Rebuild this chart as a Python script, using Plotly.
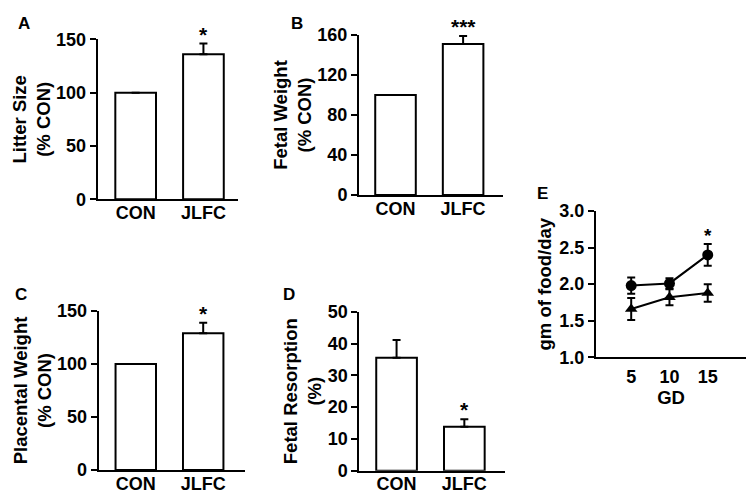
import plotly.graph_objects as go

# The page body has an 8px margin: the figure starts at (8, 8) in the window.
OFF = 8
W, H = 756 - OFF, 502 - OFF

groups = ["CON", "JLFC"]

litter_vals = [100, 136]
litter_err = [0, 10]
fetal_w_vals = [100, 151]
fetal_w_err = [0, 8]
plac_vals = [100, 129]
plac_err = [0, 10]
resorp_vals = [35.5, 13.8]
resorp_err = [5.6, 2.4]

gd = [5, 10, 15]
food_circle = [1.98, 2.01, 2.40]
food_circle_err = [0.11, 0.07, 0.15]
food_tri = [1.66, 1.82, 1.88]
food_tri_err = [0.15, 0.11, 0.12]

FONT = "Liberation Sans, Arial, sans-serif"
TICKF = dict(family=FONT, size=18, color="black", weight="bold")
TITLEF = dict(family=FONT, size=18.5, color="black", weight="bold")


def px_dom_x(a, b):
    return [(a - OFF) / W, (b - OFF) / W]


def px_dom_y(top, bottom):
    return [1 - (bottom - OFF) / H, 1 - (top - OFF) / H]


def px_pt(x, y):
    return (x - OFF) / W, 1 - (y - OFF) / H


fig = go.Figure()

panels = [
    ("1", litter_vals, litter_err, px_dom_x(97.7, 238), px_dom_y(39.3, 199.3), [0, 150], 50,
     "Litter Size<br>(% CON)", [-0.56, 1.51], ["", "*"], "A", (24, 24)),
    ("2", fetal_w_vals, fetal_w_err, px_dom_x(359, 503), px_dom_y(35, 195), [0, 160], 40,
     "Fetal Weight<br>(% CON)", [-0.54, 1.59], ["", "***"], "B", (297, 24)),
    ("3", plac_vals, plac_err, px_dom_x(98.7, 245), px_dom_y(311, 470), [0, 150], 50,
     "Placental Weight<br>(% CON)", [-0.55, 1.62], ["", "*"], "C", (21, 294)),
    ("4", resorp_vals, resorp_err, px_dom_x(359.3, 505), px_dom_y(311.7, 470.7), [0, 50], 10,
     "Fetal Resorption<br>(%)", [-0.55, 1.6], ["", "*"], "D", (289, 294)),
]

annotations = []
for (n, vals, err, xd, yd, yr, dt, title, xr, stars, letter, lp) in panels:
    xa = "x" if n == "1" else "x" + n
    ya = "y" if n == "1" else "y" + n
    fig.add_trace(go.Bar(
        x=[0, 1], y=vals, width=0.6,
        marker=dict(color="white", line=dict(color="black", width=2)),
        error_y=dict(type="data", array=err, arrayminus=[0, 0], symmetric=False,
                     color="black", thickness=2, width=4),
        xaxis=xa, yaxis=ya, showlegend=False, hoverinfo="skip",
    ))
    fig.update_layout(**{
        ("xaxis" if n == "1" else "xaxis" + n): dict(
            domain=xd, range=xr, anchor=ya, tickmode="array", tickvals=[0, 1],
            ticktext=groups, showline=True, linecolor="black", linewidth=2,
            ticks="", ticklabelstandoff=-4, showgrid=False, zeroline=False,
            tickfont=TICKF, automargin=False, fixedrange=True),
        ("yaxis" if n == "1" else "yaxis" + n): dict(
            domain=yd, range=yr, anchor=xa, dtick=dt, tick0=0, showline=True,
            linecolor="black", linewidth=2, ticks="outside", ticklen=6, tickwidth=2,
            tickcolor="black", showgrid=False, zeroline=False, tickfont=TICKF,
            title=dict(text=title, font=TITLEF, standoff=1), automargin=False,
            fixedrange=True),
    })
    for i, s in enumerate(stars):
        if s:
            annotations.append(dict(
                x=i, y=vals[i] + err[i], xref=xa, yref=ya, text=s, showarrow=False,
                yanchor="bottom", yshift=-4,
                font=dict(family=FONT, size=21, color="black", weight="bold")))
    lx, ly = px_pt(*lp)
    annotations.append(dict(
        x=lx, y=ly, xref="paper", yref="paper", text=letter,
        showarrow=False, xanchor="center", yanchor="middle",
        font=dict(family=FONT, size=17, color="black", weight="bold")))

# Panel E
fig.add_trace(go.Scatter(
    x=gd, y=food_circle, mode="lines+markers",
    line=dict(color="black", width=2),
    marker=dict(symbol="circle", size=11, color="black"),
    error_y=dict(type="data", array=food_circle_err, color="black", thickness=2, width=4),
    xaxis="x5", yaxis="y5", showlegend=False, hoverinfo="skip",
))
fig.add_trace(go.Scatter(
    x=gd, y=food_tri, mode="lines+markers",
    line=dict(color="black", width=2),
    marker=dict(symbol="triangle-up", size=11, color="black"),
    error_y=dict(type="data", array=food_tri_err, color="black", thickness=2, width=4),
    xaxis="x5", yaxis="y5", showlegend=False, hoverinfo="skip",
))
fig.update_layout(
    xaxis5=dict(domain=px_dom_x(596, 746), range=[0.4, 20], anchor="y5",
                tickvals=gd, ticks="", ticklabelstandoff=2, showline=True,
                linecolor="black", linewidth=2, showgrid=False, zeroline=False,
                tickfont=TICKF, title=dict(text="GD", font=TITLEF, standoff=4),
                automargin=False, fixedrange=True),
    yaxis5=dict(domain=px_dom_y(211, 357.3), range=[1.0, 3.0], anchor="x5",
                dtick=0.5, tick0=1.0, tickformat=".1f", showline=True, linecolor="black",
                linewidth=2, ticks="outside", ticklen=6, tickwidth=2, tickcolor="black",
                showgrid=False, zeroline=False, tickfont=TICKF,
                title=dict(text="gm of food/day", font=TITLEF, standoff=3),
                automargin=False, fixedrange=True),
)
annotations.append(dict(
    x=15, y=food_circle[2] + food_circle_err[2], xref="x5", yref="y5", text="*",
    showarrow=False, yanchor="bottom", yshift=-4,
    font=dict(family=FONT, size=19, color="black", weight="bold")))
ex, ey = px_pt(542, 193)
annotations.append(dict(
    x=ex, y=ey, xref="paper", yref="paper", text="E",
    showarrow=False, xanchor="center", yanchor="middle",
    font=dict(family=FONT, size=17, color="black", weight="bold")))

fig.update_layout(
    template="none",
    width=W, height=H, margin=dict(l=0, r=0, t=0, b=0, autoexpand=False),
    paper_bgcolor="white", plot_bgcolor="white", annotations=annotations,
    font=dict(family=FONT, color="black"),
)

fig.write_html("out.html")
